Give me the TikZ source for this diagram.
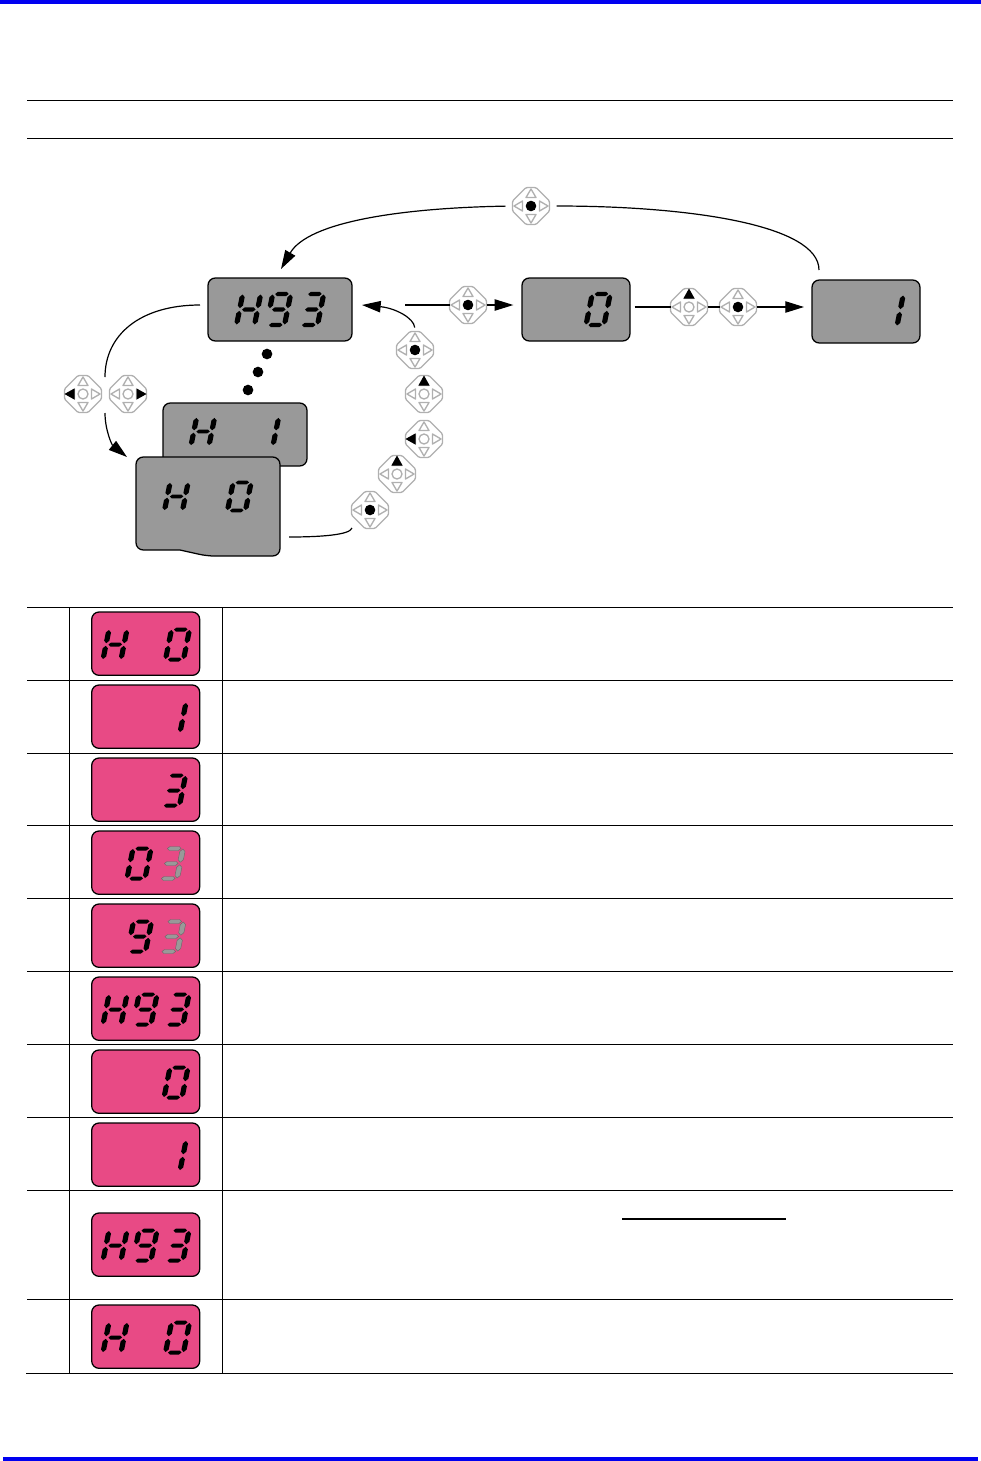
\documentclass[tikz,border=0pt]{standalone}
\usetikzlibrary{arrows.meta}
\definecolor{barblue}{HTML}{0000F0}
\definecolor{pinkfill}{HTML}{E84A85}
\definecolor{lcdgray}{HTML}{999999}
\definecolor{keygray}{HTML}{B0B0B0}
\tikzset{
  rule/.style={line width=.7pt,black},
  conn/.style={line width=.9pt,black},
  head/.style={-{Triangle[length=14pt,width=8.5pt]}},
  lcdgrey/.style={draw=black,line width=.95pt,fill=lcdgray,rounded corners=5.5pt,inner sep=0pt,outer sep=0pt,anchor=north west},
  lcdpink/.style={draw=black,line width=.95pt,fill=pinkfill,rounded corners=5.5pt,inner sep=0pt,outer sep=0pt,anchor=north west,minimum width=81pt,minimum height=47.5pt},
  keynode/.style={circle,inner sep=0pt,outer sep=0pt,minimum size=27.75pt},
  keyline/.style={draw=keygray,line width=1pt,line join=round},
  dotmark/.style={circle,fill=black,inner sep=0pt,minimum size=8pt},
  ghostseg/.style={fill=lcdgray,draw=black!60,line width=.3pt}
}
% tapered segment pieces: vertical {x}{top}{bottom}{style}, horizontal {y}{left}{right}{style}
\newcommand\vpiece[4]{\fill[#4] (#1,#2)--({#1+2.6},{#2+2.5})--({#1+2.6},{#3-2.5})--(#1,#3)--({#1-2.6},{#3-2.5})--({#1-2.6},{#2+2.5})--cycle;}
\newcommand\hpiece[4]{\fill[#4] (#2,#1)--({#2+2.2},{#1-2})--({#3-2.2},{#1-2})--(#3,#1)--({#3-2.2},{#1+2})--({#2+2.2},{#1+2})--cycle;}
\newcommand\sega[1]{\hpiece{-30}{2.5}{16}{#1}}
\newcommand\segb[1]{\vpiece{18}{-29.5}{-16.3}{#1}}
\newcommand\segc[1]{\vpiece{18}{-13.7}{-0.5}{#1}}
\newcommand\segd[1]{\hpiece{0}{2.5}{16}{#1}}
\newcommand\sege[1]{\vpiece{0}{-13.7}{-0.5}{#1}}
\newcommand\segf[1]{\vpiece{0}{-29.5}{-16.3}{#1}}
\newcommand\segg[1]{\hpiece{-15}{2.5}{16}{#1}}
% \dig{x}{y of baseline}{height}{segments}{style}
\newcommand\dig[5]{\begin{scope}[shift={(#1,#2)},xslant=.2,yscale=#3/30]
  \foreach \s in {#4}{\csname seg\s\endcsname{#5}}
\end{scope}}
\newcommand\digH[3]{\dig{#1}{#2}{#3}{b,c,e,f,g}{black}}
\newcommand\digZ[3]{\dig{#1}{#2}{#3}{a,b,c,d,e,f}{black}}
\newcommand\digO[3]{\dig{#1}{#2}{#3}{b,c}{black}}
\newcommand\digT[3]{\dig{#1}{#2}{#3}{a,b,c,d,g}{black}}
\newcommand\digN[3]{\dig{#1}{#2}{#3}{a,b,c,d,f,g}{black}}
\newcommand\digG[3]{\dig{#1}{#2}{#3}{a,b,c,d,g}{ghostseg}}
% keypad: name, x, y, active part (c,u,l,r)
\newcommand\keypad[4]{%
  \node[keynode] (#1) at (#2,#3) {};
  \begin{scope}[shift={(#2,#3)}]
    \draw[keyline,fill=white,rounded corners=1pt] (-5,-18.5)--(5,-18.5)--(18.5,-5)--(18.5,5)--(5,18.5)--(-5,18.5)--(-18.5,5)--(-18.5,-5)--cycle;
    \draw[keyline] (0,-17)--(5,-8.5)--(-5,-8.5)--cycle;
    \draw[keyline] (0,17)--(5,8.5)--(-5,8.5)--cycle;
    \draw[keyline] (-17,0)--(-8.5,5)--(-8.5,-5)--cycle;
    \draw[keyline] (17,0)--(8.5,5)--(8.5,-5)--cycle;
    \ifx c#4\fill[black] (0,0) circle (5.3);\else\draw[keyline] (0,0) circle (5);\fi
    \ifx u#4\fill[black] (0,-18.5)--(5.5,-8.5)--(-5.5,-8.5)--cycle;\fi
    \ifx l#4\fill[black] (-18.5,0)--(-8.5,5.5)--(-8.5,-5.5)--cycle;\fi
    \ifx r#4\fill[black] (18.5,0)--(8.5,5.5)--(8.5,-5.5)--cycle;\fi
  \end{scope}}
% pink display: name, top y
\newcommand\pinkbox[2]{\node[lcdpink] (#1) at (91.7,#2) {};}
\begin{document}
\begin{tikzpicture}[x=.75pt,y=-.75pt]
\useasboundingbox (0,0) rectangle (981,1461);
\fill[white] (0,0) rectangle (981,1461);
% blue bars
\fill[barblue] (0,0) rectangle (981,4);
\fill[barblue] (3,1457) rectangle (978,1461);
% header rules
\draw[rule] (27,100)--(953,100);
\draw[rule] (27,138)--(953,138);
% table
\foreach \yy in {607,680,753,825,898,971,1044,1117,1190,1299}{\draw[rule] (27,\yy)--(953,\yy);}
\draw[rule] (26,1373)--(953,1373);
\draw[rule] (69.5,607)--(69.5,1373);
\draw[rule] (222,607)--(222,1373);
\draw[line width=.95pt] (622,1219)--(786,1219);
% pink displays
\pinkbox{p1}{612}  \digH{103}{659.5}{30}\digZ{165.5}{659.5}{30}
\pinkbox{p2}{685}  \digO{162}{732.5}{30}
\pinkbox{p3}{758}  \digT{161.5}{805.5}{30}
\pinkbox{p4}{831}  \digZ{127}{878.5}{30}\digG{159}{878.5}{30}
\pinkbox{p5}{904}  \digN{127.5}{951.5}{30}\digG{159.5}{951.5}{30}
\pinkbox{p6}{977}  \digH{103}{1024.5}{30}\digN{133}{1024.5}{30}\digT{165}{1024.5}{30}
\pinkbox{p7}{1050} \digZ{164}{1097.5}{30}
\pinkbox{p8}{1123} \digO{162}{1170.5}{30}
\pinkbox{p9}{1213} \digH{103}{1260.5}{30}\digN{133}{1260.5}{30}\digT{165}{1260.5}{30}
\pinkbox{p10}{1305}\digH{103}{1352.5}{30}\digZ{165.5}{1352.5}{30}
% grey displays
\node[lcdgrey,minimum width=108pt,minimum height=47.25pt] (h93) at (208,278) {};
\digH{236.5}{325}{31}\digN{266.5}{325}{31}\digT{299.5}{325}{31}
\node[lcdgrey,minimum width=81pt,minimum height=47.25pt] (b0) at (522,278) {};
\digZ{586}{325}{31}
\node[lcdgrey,minimum width=81pt,minimum height=47.25pt] (b1) at (812,280) {};
\digO{879}{326}{31}
\node[lcdgrey,minimum width=108pt,minimum height=47.25pt] (h1) at (163,403) {};
\digH{191}{445.5}{28}\digO{255}{445.5}{28}
\draw[line width=.95pt,fill=lcdgray,rounded corners=5.5pt] (136,457)--(280,457)--(280,556)--(207,556) [sharp corners] --(180,550) [rounded corners=5.5pt] --(136,550)--cycle;
\node[inner sep=0pt,minimum width=108pt,minimum height=70pt,anchor=north west] (h0) at (136,457) {};
\digH{164.5}{510.5}{28}\digZ{227.5}{510.5}{28}
% ellipsis dots
\node[dotmark] (d1) at (267,354) {};
\node[dotmark] (d2) at (258,372) {};
\node[dotmark] (d3) at (248,390) {};
% keypads
\keypad{ktop}{531}{206}{c}
\keypad{kgo}{468}{305}{c}
\keypad{kup}{689}{307}{u}
\keypad{kent}{738}{307}{c}
\keypad{kl}{83}{394}{l}
\keypad{kr}{128}{394}{r}
\keypad{ka}{415}{350}{c}
\keypad{kb}{424}{394}{u}
\keypad{kc}{424}{439}{l}
\keypad{kd}{397}{474}{u}
\keypad{ke}{370}{510}{c}
% free ends
\coordinate (c0) at (200,305);
\coordinate (c1) at (819,270);
\coordinate (c2) at (105,377);
\coordinate (c3) at (105,413);
\coordinate (c4) at (127,457);
\coordinate (c5) at (289,537);
\coordinate (c6) at (352,528);
\coordinate (c7) at (362,305);
\coordinate (c8) at (405,305);
\coordinate (c9) at (281,269);
% connectors
\draw[conn,shorten <=5.25pt] (ktop.east) .. controls (690,206) and (819,225) .. (c1);
\draw[conn,head,shorten <=5.25pt] (ktop.west) .. controls (400,208) and (308,222) .. (c9);
\draw[conn] (c0) .. controls (140,305) and (105,335) .. (c2);
\draw[conn,head] (c3) .. controls (105,430) and (112,445) .. (c4);
\draw[conn] (c5) .. controls (320,537) and (350,535) .. (c6);
\draw[conn,head,shorten <=3pt] (ka.north) .. controls (414,318) and (395,308) .. (c7);
\draw[conn] (c8) -- (kgo.west);
\draw[conn,head,shorten >=6.5pt] (kgo.east) -- (kgo.east -| b0.west);
\draw[conn,shorten <=3.5pt] (kup.west -| b0.east) -- (kup.west);
\draw[conn] (kup.east) -- (kent.west);
\draw[conn,head,shorten >=6pt] (kent.east) -- (kent.east -| b1.west);
\end{tikzpicture}
\end{document}
